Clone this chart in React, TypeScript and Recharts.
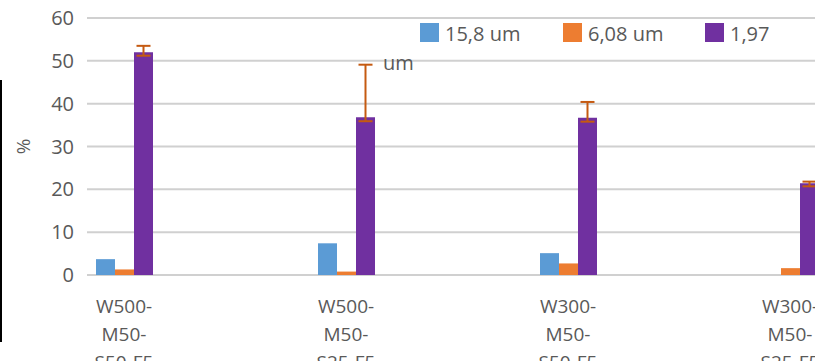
import { BarChart, Bar, XAxis, YAxis, CartesianGrid, Legend, ErrorBar } from "recharts";

// particle size groups per mix
const groups = ["W500-M50-S50-F5", "W500-M50-S25-F5", "W300-M50-S50-F5", "W300-M50-S25-F5"];
const coarse = [3.7, 7.4, 5.1, 0]; // 15,8 um
const medium = [1.3, 0.8, 2.7, 1.6]; // 6,08 um
const fine = [52.0, 36.8, 36.7, 21.4]; // 1,97 um
const fineErrLow = [0.8, 0.9, 0.9, 0.7];
const fineErrHigh = [1.5, 12.3, 3.7, 0.4];
const seriesNames = ["15,8 um", "6,08 um", "1,97 um"];
const yTicks = [0, 10, 20, 30, 40, 50, 60];
const blanksAfter = 2; // empty categories between the groups

const COLORS = ["#5b9bd5", "#ed7d31", "#7030a0"];
const TEXT = "#595959";
const FONT = "'Open Sans', sans-serif";

const rows = groups.flatMap((g, i) => [
  {
    name: g,
    coarse: coarse[i],
    medium: medium[i],
    fine: fine[i],
    fineErr: [fineErrLow[i], fineErrHigh[i]],
  },
  ...Array.from({ length: blanksAfter }, () => ({ name: "" })),
]);

// Excel breaks the label after the first two hyphens
function wrapLabel(s: string): string[] {
  if (!s) return [];
  const parts = s.split("-");
  return [parts[0] + "-", parts[1] + "-", parts.slice(2).join("-")];
}

function XTick(props: any) {
  const { x, y, payload } = props;
  const lines = wrapLabel(payload.value);
  return (
    <text x={x} y={y} textAnchor="middle" fill={TEXT} fontSize={19} fontFamily={FONT}>
      {lines.map((l, i) => (
        <tspan key={i} x={x} y={y + 36 + i * 28}>
          {l}
        </tspan>
      ))}
    </text>
  );
}

const legendX = [420, 563, 705];
const legendWrap = [false, false, true];

function LegendContent(props: any) {
  const payload = props.payload || [];
  return (
    <svg width={815} height={80} style={{ display: "block" }}>
      {seriesNames.map((name, i) => {
        const p = payload.find((e: any) => e.value === name);
        if (!p) return null;
        const x = legendX[i];
        const words = name.split(" ");
        const first = legendWrap[i] ? words[0] : name;
        return (
          <g key={name}>
            <rect x={x} y={23} width={19} height={19} fill={p.color} />
            <text x={x + 25} y={41} fill={TEXT} fontSize={20} fontFamily={FONT}>
              {first}
            </text>
            {legendWrap[i] && (
              <text x={383} y={70} fill={TEXT} fontSize={20} fontFamily={FONT}>
                {words.slice(1).join(" ")}
              </text>
            )}
          </g>
        );
      })}
    </svg>
  );
}

function YLabel(props: any) {
  const { x, y, height } = props.viewBox;
  const cx = x + 23;
  const cy = y + height / 2;
  return (
    <text
      x={cx}
      y={cy}
      transform={`rotate(-90, ${cx}, ${cy})`}
      textAnchor="middle"
      dominantBaseline="central"
      fill={TEXT}
      fontSize={19}
      fontFamily={FONT}
    >
      %
    </text>
  );
}

export default function App() {
  return (
    <div
      style={{
        position: "absolute",
        left: 0,
        top: 0,
        width: 815,
        height: 361,
        overflow: "hidden",
        background: "#fff",
        fontFamily: FONT,
      }}
    >
      <div style={{ position: "absolute", left: 0, top: 80, width: 2, height: 262, background: "#000" }} />
      <BarChart
        width={985}
        height={400}
        data={rows}
        margin={{ top: 18, right: 10, left: 0, bottom: 0 }}
        barCategoryGap={9}
        barGap={0}
      >
        <CartesianGrid vertical={false} stroke="#d0d0d0" strokeWidth={2} />
        <XAxis
          dataKey="name"
          interval={0}
          height={125}
          axisLine={false}
          tickLine={false}
          tickSize={0}
          tick={<XTick />}
        />
        <YAxis
          domain={[0, 60]}
          ticks={yTicks}
          width={87}
          axisLine={false}
          tickLine={false}
          tickSize={0}
          tickMargin={13}
          tick={{ fill: TEXT, fontSize: 20, fontFamily: FONT }}
          label={{ content: <YLabel /> } as any}
        />
        <Legend
          layout="horizontal"
          verticalAlign="middle"
          align="center"
          wrapperStyle={{ top: 0, left: 0, width: 815 }}
          content={<LegendContent />}
        />
        <Bar dataKey="coarse" name={seriesNames[0]} fill={COLORS[0]} isAnimationActive={false} />
        <Bar dataKey="medium" name={seriesNames[1]} fill={COLORS[1]} isAnimationActive={false} />
        <Bar dataKey="fine" name={seriesNames[2]} fill={COLORS[2]} isAnimationActive={false}>
          <ErrorBar dataKey="fineErr" stroke="#c55a11" strokeWidth={2} width={7} direction="y" />
        </Bar>
      </BarChart>
    </div>
  );
}
